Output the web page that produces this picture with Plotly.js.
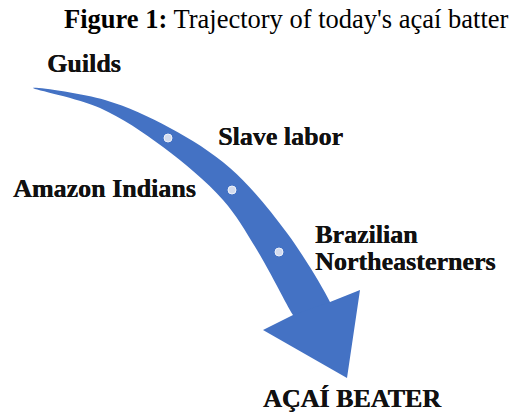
<!DOCTYPE html>
<html>
<head>
<meta charset="utf-8">
<script src="https://cdn.plot.ly/plotly-3.0.1.min.js"></script>
<style>html,body{margin:0;padding:0;background:#fff;}#chart{width:513px;height:412px;}</style>
</head>
<body>
<div id="chart"></div>
<script>
// Diagram content
const titleBold = "Figure 1:";
const titleText = " Trajectory of today's açaí batter";
const stageLabels = ["Guilds", "Slave labor", "Amazon Indians", "Brazilian", "Northeasterners", "AÇAÍ BEATER"];
const stageX = [45, 216, 11, 313, 313, 261];
const stageY = [63, 136, 188, 234, 261, 398];

// Path of the curved arrow (body outline and head)
const bodyUpperX = [33, 105, 170, 230, 287, 330, 335];
const bodyUpperY = [88, 100, 128, 168, 233, 302, 315];
const bodyLowerX = [300, 293, 257, 223, 163, 100, 33];
const bodyLowerY = [325, 315, 250, 200, 147, 108, 88];
const headX = [330, 360, 347, 263, 293];
const headY = [302, 290, 378, 330, 315];

// Milestone dots along the trajectory
const dotX = [168, 232, 279];
const dotY = [138, 190, 252];

const blue = "#4472C4";

const traces = [
  {
    x: bodyUpperX.concat(bodyLowerX),
    y: bodyUpperY.concat(bodyLowerY),
    mode: "lines", fill: "toself", fillcolor: blue,
    line: {width: 0, shape: "spline", smoothing: 1, color: blue},
    hoverinfo: "skip", showlegend: false
  },
  {
    x: headX, y: headY,
    mode: "lines", fill: "toself", fillcolor: blue,
    line: {width: 0, color: blue},
    hoverinfo: "skip", showlegend: false
  },
  {
    x: dotX, y: dotY, mode: "markers",
    marker: {size: 8, color: "#d3dbee", line: {color: "#eef2fa", width: 1}},
    hoverinfo: "skip", showlegend: false
  }
];

const labelFont = {family: "Liberation Serif", size: 26, weight: "bold", color: "#111",
                   shadow: "0.4px 0 0 #111"};
const annotations = stageLabels.map((t, i) => ({
  x: stageX[i], y: stageY[i], xref: "x", yref: "y",
  text: t, showarrow: false,
  xanchor: "left", yanchor: "middle", font: labelFont
}));
annotations.push({
  x: 286, y: 19, xref: "x", yref: "y",
  text: "<b>" + titleBold + "</b>" + titleText, showarrow: false,
  xanchor: "center", yanchor: "middle",
  font: {family: "Liberation Serif", size: 26.5, color: "#000"}
});

const layout = {
  width: 513, height: 412,
  margin: {l: 0, r: 0, t: 0, b: 0},
  paper_bgcolor: "#fff", plot_bgcolor: "#fff",
  xaxis: {range: [0, 513], visible: false, fixedrange: true},
  yaxis: {range: [412, 0], visible: false, fixedrange: true},
  annotations: annotations,
  showlegend: false
};

Plotly.newPlot("chart", traces, layout, {displayModeBar: false, staticPlot: true});
</script>
</body>
</html>
